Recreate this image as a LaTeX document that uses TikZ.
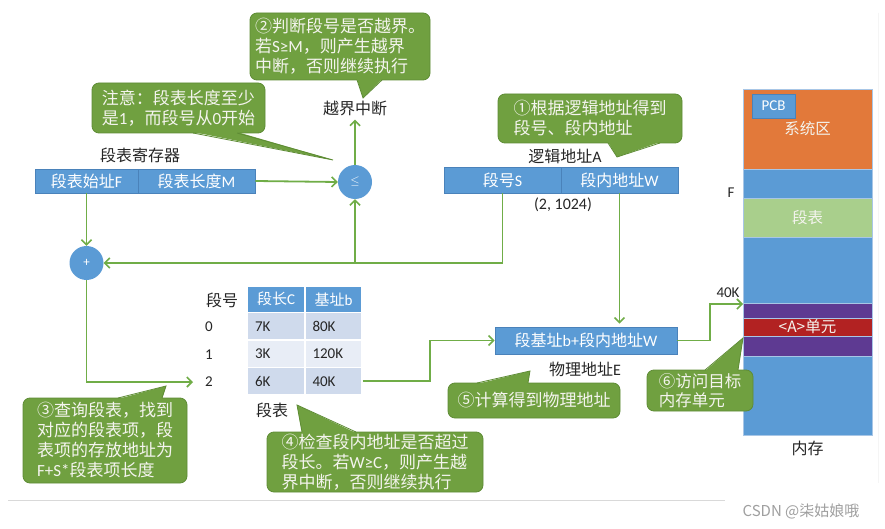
\documentclass[tikz,border=0pt]{standalone}
\usepackage{fontspec}
\setmainfont{Noto Sans CJK SC}
\newfontfamily\latf{Carlito}
\newcommand\lat[1]{{\latf #1}}
\usetikzlibrary{arrows.meta,calc}
\definecolor{blueC}{HTML}{5B9BD5}
\definecolor{blueD}{HTML}{4A82BA}
\definecolor{cg}{HTML}{70A040}
\definecolor{cgd}{HTML}{5E8C35}
\definecolor{lg}{HTML}{70AD47}
\definecolor{orC}{HTML}{E2793A}
\definecolor{mgreen}{HTML}{A9CF8C}
\definecolor{purp}{HTML}{5E3A92}
\definecolor{redC}{HTML}{B22222}
\definecolor{rowA}{HTML}{CFDAEC}
\definecolor{rowB}{HTML}{E8EDF6}
\definecolor{txtw}{HTML}{F4F4EE}
\definecolor{memline}{HTML}{A8C6E6}
\begin{document}
\begin{tikzpicture}[x=1pt,y=-1pt,
  arr/.style={draw=lg, line width=1.8pt, -{Straight Barb[length=5pt,width=10pt,line width=1.6pt]}},
  callout/.style={fill=cg, draw=cgd, line width=0.8pt, rounded corners=7pt, text=txtw, align=left, inner sep=0pt, font=\fontsize{17}{20}\selectfont},
  wedgeline/.style={draw=cgd, line width=0.8pt},
  cell/.style={fill=blueC, draw=blueD, line width=0.6pt, text=white, inner sep=0pt, font=\fontsize{16}{18}\selectfont},
  lbl/.style={text=black!85, inner sep=0pt, font=\fontsize{16}{18}\selectfont},
  latlbl/.style={text=black!85, inner sep=0pt, font=\latf\fontsize{15}{17}\selectfont},
  circ/.style={circle, fill=blueC, minimum size=34pt, inner sep=0pt, text=white, font=\latf\fontsize{13}{14}\selectfont},
  tcell/.style={draw=white, line width=1.5pt, inner sep=0pt, minimum height=27.5pt, text width=42pt, align=left, text=black!85, font=\latf\fontsize{15}{17}\selectfont},
  thead/.style={draw=white, line width=1.5pt, fill=blueC, inner sep=0pt, minimum height=26.5pt, text=white, font=\fontsize{15}{17}\selectfont},
  memblk/.style={draw=memline, line width=0.5pt, minimum width=129pt, inner sep=0pt, text=txtw, font=\fontsize{15.5}{17}\selectfont}
]
\useasboundingbox (0,0) rectangle (885,529);
\fill[white] (0,0) rectangle (885,529);
\draw[gray!30, line width=1pt] (8,500) -- (725,500);
\draw[gray!8, line width=1pt] (878,13) -- (878,483);

% segment table register
\node[lbl] (regL) at (140,155) {段表寄存器};
\node[cell, minimum width=103pt, minimum height=24pt] (regF) at (86.5,181) {段表始址\lat{F}};
\node[cell, minimum width=117pt, minimum height=24pt] (regM) at (196.5,181) {段表长度\lat{M}};

% circles
\node[circ] (cmp) at (355,182) {$\leq$};
\node[circ] (add) at (86.5,263) {+};
\node[lbl] (ovf) at (355,108) {越界中断};

% logical address
\node[lbl] (laL) at (565,156) {逻辑地址\lat{A}};
\node[cell, minimum width=117pt, minimum height=26pt] (laS) at (502.5,180) {段号\lat{S}};
\node[cell, minimum width=117pt, minimum height=26pt] (laW) at (619.5,180) {段内地址\lat{W}};
\node[latlbl, font=\latf\fontsize{16}{18}\selectfont] (la24) at (563,205) {(2, 1024)};

% physical address
\node[cell, minimum width=182pt, minimum height=27pt] (pa) at (586,340.5) {段基址\lat{b+}段内地址\lat{W}};
\node[lbl] (paL) at (585,369) {物理地址\lat{E}};

% segment table
\node[lbl] (segNo) at (222,300) {段号};
\node[latlbl] (n0) at (209,327) {0};
\node[latlbl] (n1) at (209,355) {1};
\node[latlbl] (n2) at (209,382) {2};
\node[thead, minimum width=58pt] (hC) at (276,299.25) {段长\lat{C}};
\node[thead, minimum width=57pt] (hB) at (333.5,299.25) {基址\lat{b}};
\node[tcell, fill=rowA, minimum width=58pt] (r0c) at (276,326.25) {7K};
\node[tcell, fill=rowA, minimum width=57pt] (r0b) at (333.5,326.25) {80K};
\node[tcell, fill=rowB, minimum width=58pt] (r1c) at (276,353.75) {3K};
\node[tcell, fill=rowB, minimum width=57pt] (r1b) at (333.5,353.75) {120K};
\node[tcell, fill=rowA, minimum width=58pt] (r2c) at (276,381.25) {6K};
\node[tcell, fill=rowA, minimum width=57pt] (r2b) at (333.5,381.25) {40K};
\node[lbl] (tblL) at (272,410) {段表};

% memory
\node[memblk, fill=orC, minimum height=80pt] (mSys) at (807.5,129) {系统区};
\node[memblk, fill=blueC, minimum height=29pt] (mB1) at (807.5,183.5) {};
\node[memblk, fill=mgreen, minimum height=39pt] (mSeg) at (807.5,217.5) {段表};
\node[memblk, fill=blueC, minimum height=66pt] (mB2) at (807.5,270) {};
\node[memblk, fill=purp, minimum height=15pt] (mP1) at (807.5,310.5) {};
\node[memblk, fill=redC, minimum height=18pt] (mA) at (807.5,327) {<A>单元};
\node[memblk, fill=purp, minimum height=20pt] (mP2) at (807.5,346) {};
\node[memblk, fill=blueC, minimum height=79pt] (mB3) at (807.5,395.5) {};
\node[fill=blueC, draw=blueD, line width=0.6pt, minimum width=43pt, minimum height=24pt, inner sep=0pt, text=white, font=\latf\fontsize{15}{17}\selectfont] (pcb) at (773.5,106) {PCB};
\node[latlbl] (fLbl) at (731,193) {F};
\node[latlbl] (k40L) at (728,293) {40K};
\node[lbl] (memL) at (807.5,448) {内存};
\coordinate (k40) at (743,304);

% connectors
\draw[arr] (regM.east) -- (cmp.west);
\draw[arr, shorten >=4pt] (cmp.north) -- (ovf.south);
\draw[arr] (regF.south) -- (add.north);
\draw[arr] (laS.south) |- (add.east);
\draw[arr] (cmp.south |- add.east) -- (cmp.south);
\draw[arr, shorten >=3pt] (laW.south) -- (laW.south |- pa.north);
\draw[arr] (add.south) |- ([xshift=-12pt]n2.west);
\draw[arr] (r2b.east) -- ++(67,0) |- (pa.west);
\draw[arr] (pa.east) -- ++(33,0) |- (k40);

% callouts
\node[callout, minimum width=180pt, minimum height=67pt] (c2) at (340,46.5) {②判断段号是否越界。\\若\lat{S≥M}，则产生越界\\中断，否则继续执行};
\fill[cg] (357,79) -- (363,98) -- (382,79) -- cycle;
\draw[wedgeline] (357,80) -- (363,98) -- (382,80);

\node[callout, minimum width=173pt, minimum height=50pt] (cN) at (178.5,108) {注意：段表长度至少\\是\lat{1}，而段号从\lat{0}开始};
\fill[cg] (193,132) -- (333,160) -- (237,132) -- cycle;
\draw[wedgeline] (193,133) -- (333,160) -- (237,133);

\node[callout, minimum width=184pt, minimum height=49pt] (c1) at (590,118.5) {①根据逻辑地址得到\\段号、段内地址};
\fill[cg] (608,142) -- (617,157) -- (660,142) -- cycle;
\draw[wedgeline] (608,143) -- (617,157) -- (660,143);

\node[callout, minimum width=164pt, minimum height=85pt] (c3) at (105,440.5) {③查询段表，找到\\对应的段表项，段\\表项的存放地址为\\\lat{F+S*}段表项长度};
\fill[cg] (118,399) -- (166,386) -- (162,399) -- cycle;
\draw[wedgeline] (118,398) -- (166,386) -- (162,398);

\node[callout, minimum width=216pt, minimum height=60pt] (c4) at (375,462) {④检查段内地址是否超过\\段长。若\lat{W≥C}，则产生越\\界中断，否则继续执行};
\fill[cg] (302,433) -- (297,405) -- (356,433) -- cycle;
\draw[wedgeline] (302,432) -- (297,405) -- (356,432);

\node[callout, minimum width=172pt, minimum height=35pt] (c5) at (534,400.5) {⑤计算得到物理地址};
\fill[cg] (477,384) -- (530,371) -- (528,384) -- cycle;
\draw[wedgeline] (477,383) -- (530,371) -- (528,383);

\node[callout, minimum width=106pt, minimum height=41pt, font=\fontsize{16.5}{18.5}\selectfont] (c6) at (700,390.5) {⑥访问目标\\内存单元};
\fill[cg] (705,371) -- (743,338) -- (738,371) -- cycle;
\draw[wedgeline] (705,370) -- (743,338) -- (738,370);

\node[text=gray!75, inner sep=0pt, font=\fontsize{15}{17}\selectfont] (wm) at (801,511) {CSDN @柒姑娘哦};
\end{tikzpicture}
\end{document}
